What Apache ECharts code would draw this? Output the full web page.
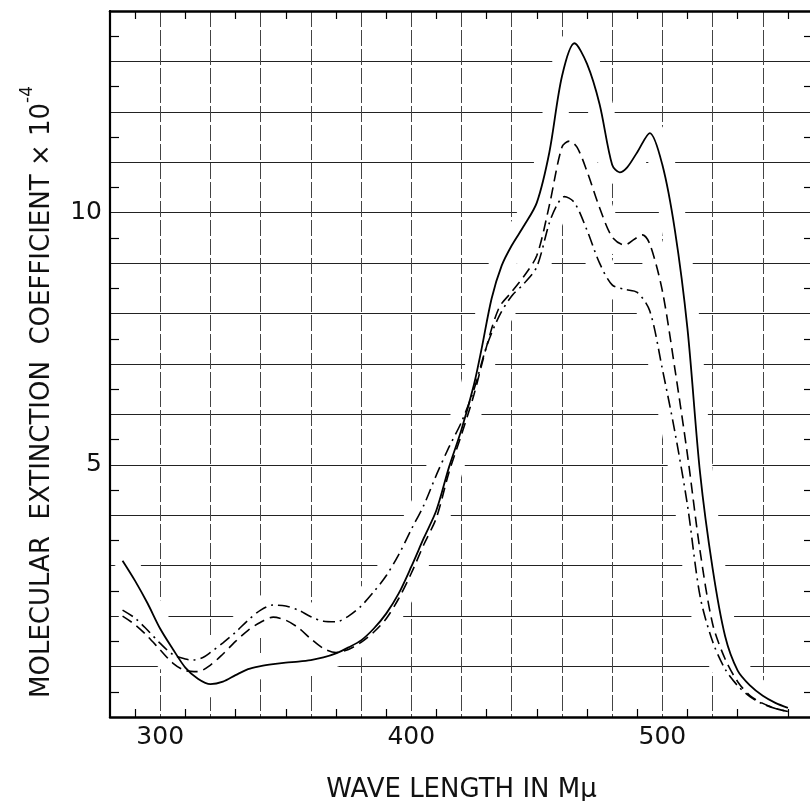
<!DOCTYPE html>
<html>
<head>
<meta charset="utf-8">
<script src="https://cdn.jsdelivr.net/npm/echarts@6/dist/echarts.min.js"></script>
<style>
  html, body { margin: 0; padding: 0; background: #fff; }
  #main { width: 810px; height: 801px; }
</style>
</head>
<body>
<div id="main"></div>
<script>
// solid curve
const solidNm = [285, 290, 295, 300, 305, 310, 315, 320, 325, 330, 335, 340, 345, 350, 355, 360, 365, 370, 375, 380,
  385, 390, 395, 400, 405, 410, 415, 420, 425, 428, 432, 436, 440, 445, 450, 455, 460, 465, 470, 475, 480,
  483, 486, 490, 495, 500, 505, 510, 515, 520, 525, 530, 535, 540, 545, 550]
const solidVal = [3.1, 2.7, 2.25, 1.75, 1.35, 0.98, 0.76, 0.65, 0.70, 0.83, 0.95, 1.01, 1.05, 1.08, 1.10, 1.13, 1.18, 1.26, 1.38, 1.52,
  1.75, 2.05, 2.45, 2.98, 3.55, 4.1, 4.95, 5.7, 6.6, 7.3, 8.3, 8.95, 9.35, 9.75, 10.2, 11.2, 12.7, 13.36, 12.95, 12.15, 10.95,
  10.8, 10.9, 11.2, 11.58, 10.95, 9.65, 7.7, 4.85, 2.95, 1.6, 0.92, 0.62, 0.42, 0.28, 0.18]

// dashed curve
const dashedNm = [285, 290, 295, 300, 305, 310, 315, 320, 325, 330, 335, 340, 345, 350, 355, 360, 365, 370, 375, 380,
  385, 390, 395, 400, 405, 410, 415, 420, 425, 430, 435, 440, 445, 450, 455, 460, 463, 466, 470, 475,
  480, 485, 489, 492, 495, 500, 505, 510, 515, 520, 525, 530, 535, 540, 545, 550]
const dashedVal = [2.0, 1.83, 1.6, 1.33, 1.07, 0.92, 0.9, 1.03, 1.25, 1.5, 1.72, 1.88, 1.98, 1.92, 1.77, 1.55, 1.36, 1.28, 1.34, 1.48,
  1.68, 1.95, 2.35, 2.85, 3.42, 3.95, 4.85, 5.6, 6.4, 7.35, 8.12, 8.43, 8.75, 9.15, 10.15, 11.3, 11.42, 11.3, 10.82, 10.1,
  9.52, 9.36, 9.48, 9.56, 9.38, 8.45, 6.9, 5.2, 3.3, 1.85, 1.15, 0.7, 0.42, 0.27, 0.17, 0.11]

// dash-dot curve
const dashDotNm = [285, 290, 295, 300, 305, 310, 313, 317, 320, 325, 330, 335, 340, 345, 350, 355, 360, 365, 370, 375,
  380, 385, 390, 395, 400, 405, 410, 415, 420, 425, 430, 435, 440, 445, 450, 455, 458, 461, 465, 470,
  475, 480, 485, 490, 495, 500, 505, 510, 515, 520, 525, 530, 535, 540, 545, 550]
const dashDotVal = [2.12, 1.96, 1.72, 1.46, 1.24, 1.15, 1.13, 1.18, 1.28, 1.47, 1.68, 1.92, 2.12, 2.22, 2.2, 2.12, 1.99, 1.9, 1.89, 2.0,
  2.2, 2.48, 2.8, 3.22, 3.72, 4.2, 4.8, 5.35, 5.85, 6.5, 7.35, 7.95, 8.35, 8.6, 8.93, 9.8, 10.15, 10.32, 10.2, 9.65,
  9.0, 8.57, 8.48, 8.42, 8.05, 6.9, 5.65, 4.2, 2.4, 1.5, 0.95, 0.62, 0.4, 0.26, 0.17, 0.11]

const xLabels = [300, 400, 500]
const yLabels = [5, 10]

const font = 'DejaVu Sans'

function pairs (nm, val) {
  return nm.map(function (x, i) { return [x, val[i]] })
}

let myChart = echarts.init(document.getElementById('main'))

// white band under each curve, the grid breaks around the curves in the original
function halo (data) {
  return {
    type: 'line', data: data, symbol: 'none', smooth: 0.3, silent: true, z: 2,
    lineStyle: { color: '#fff', width: 26 }
  }
}
function curve (data, type, width) {
  return {
    type: 'line', data: data, symbol: 'none', smooth: 0.3, silent: true, z: 3,
    lineStyle: { color: '#000', width: width, type: type }
  }
}

function frameX (pos) {
  return {
    type: 'value', min: 280, max: 560, interval: 20, position: pos, z: 10,
    axisLine: { show: true, onZero: false, lineStyle: { color: '#000', width: 2.5 } },
    axisTick: { show: false, inside: true },
    minorTick: { show: true, splitNumber: 2, length: 8, lineStyle: { color: '#000', width: 1.2 } },
    axisLabel: { show: false },
    splitLine: { show: false }
  }
}
function frameY (pos) {
  return {
    type: 'value', min: 0, max: 14, interval: 1, position: pos, z: 10,
    axisLine: { show: true, onZero: false, lineStyle: { color: '#000', width: 2.2 } },
    axisTick: { show: false, inside: true },
    minorTick: { show: true, splitNumber: 2, length: 9, lineStyle: { color: '#000', width: 1.2 } },
    axisLabel: { show: false },
    splitLine: { show: false }
  }
}

var option = {
  animation: false,
  backgroundColor: '#fff',
  grid: { left: 110, top: 11, width: 703, height: 706, outerBoundsMode: 'none', containLabel: false },
  xAxis: [
    {
      type: 'value', min: 280, max: 560, interval: 20, position: 'bottom',
      axisLine: { show: false, onZero: false },
      axisTick: { show: false },
      axisLabel: {
        margin: 8, fontSize: 25, color: '#111', fontFamily: font,
        formatter: function (v) { return xLabels.indexOf(v) >= 0 ? String(v) : '' }
      },
      splitLine: { show: true, lineStyle: { color: '#444', width: 1, type: [16, 3] } },
      name: 'WAVE LENGTH IN Mμ',
      nameLocation: 'middle',
      nameGap: 60,
      nameTextStyle: { fontSize: 26, color: '#111', fontFamily: font }
    },
    frameX('bottom'),
    frameX('top')
  ],
  yAxis: [
    {
      type: 'value', min: 0, max: 14, interval: 1, position: 'left',
      axisLine: { show: false, onZero: false },
      axisTick: { show: false },
      axisLabel: {
        margin: 8, fontSize: 25, color: '#111', fontFamily: font,
        formatter: function (v) { return yLabels.indexOf(v) >= 0 ? String(v) : '' }
      },
      splitLine: { show: true, lineStyle: { color: '#222', width: 1.2 } }
    },
    frameY('left'),
    frameY('right')
  ],
  graphic: [
    {
      type: 'text',
      x: 37,
      y: 392,
      rotation: Math.PI / 2,
      style: {
        text: '{a|MOLECULAR  EXTINCTION  COEFFICIENT × 10}{b|-4}',
        align: 'center',
        verticalAlign: 'middle',
        rich: {
          a: { fontSize: 26, fontFamily: font, fill: '#111', padding: [10, 0, 0, 0], verticalAlign: 'bottom' },
          b: { fontSize: 17, fontFamily: font, fill: '#111', verticalAlign: 'top' }
        }
      }
    }
  ],
  series: [
    halo(pairs(solidNm, solidVal)),
    halo(pairs(dashedNm, dashedVal)),
    halo(pairs(dashDotNm, dashDotVal)),
    curve(pairs(solidNm, solidVal), 'solid', 1.8),
    curve(pairs(dashedNm, dashedVal), [11, 6], 1.6),
    curve(pairs(dashDotNm, dashDotVal), [12, 5, 2, 5], 1.6)
  ]
}
myChart.setOption(option)
</script>
</body>
</html>
